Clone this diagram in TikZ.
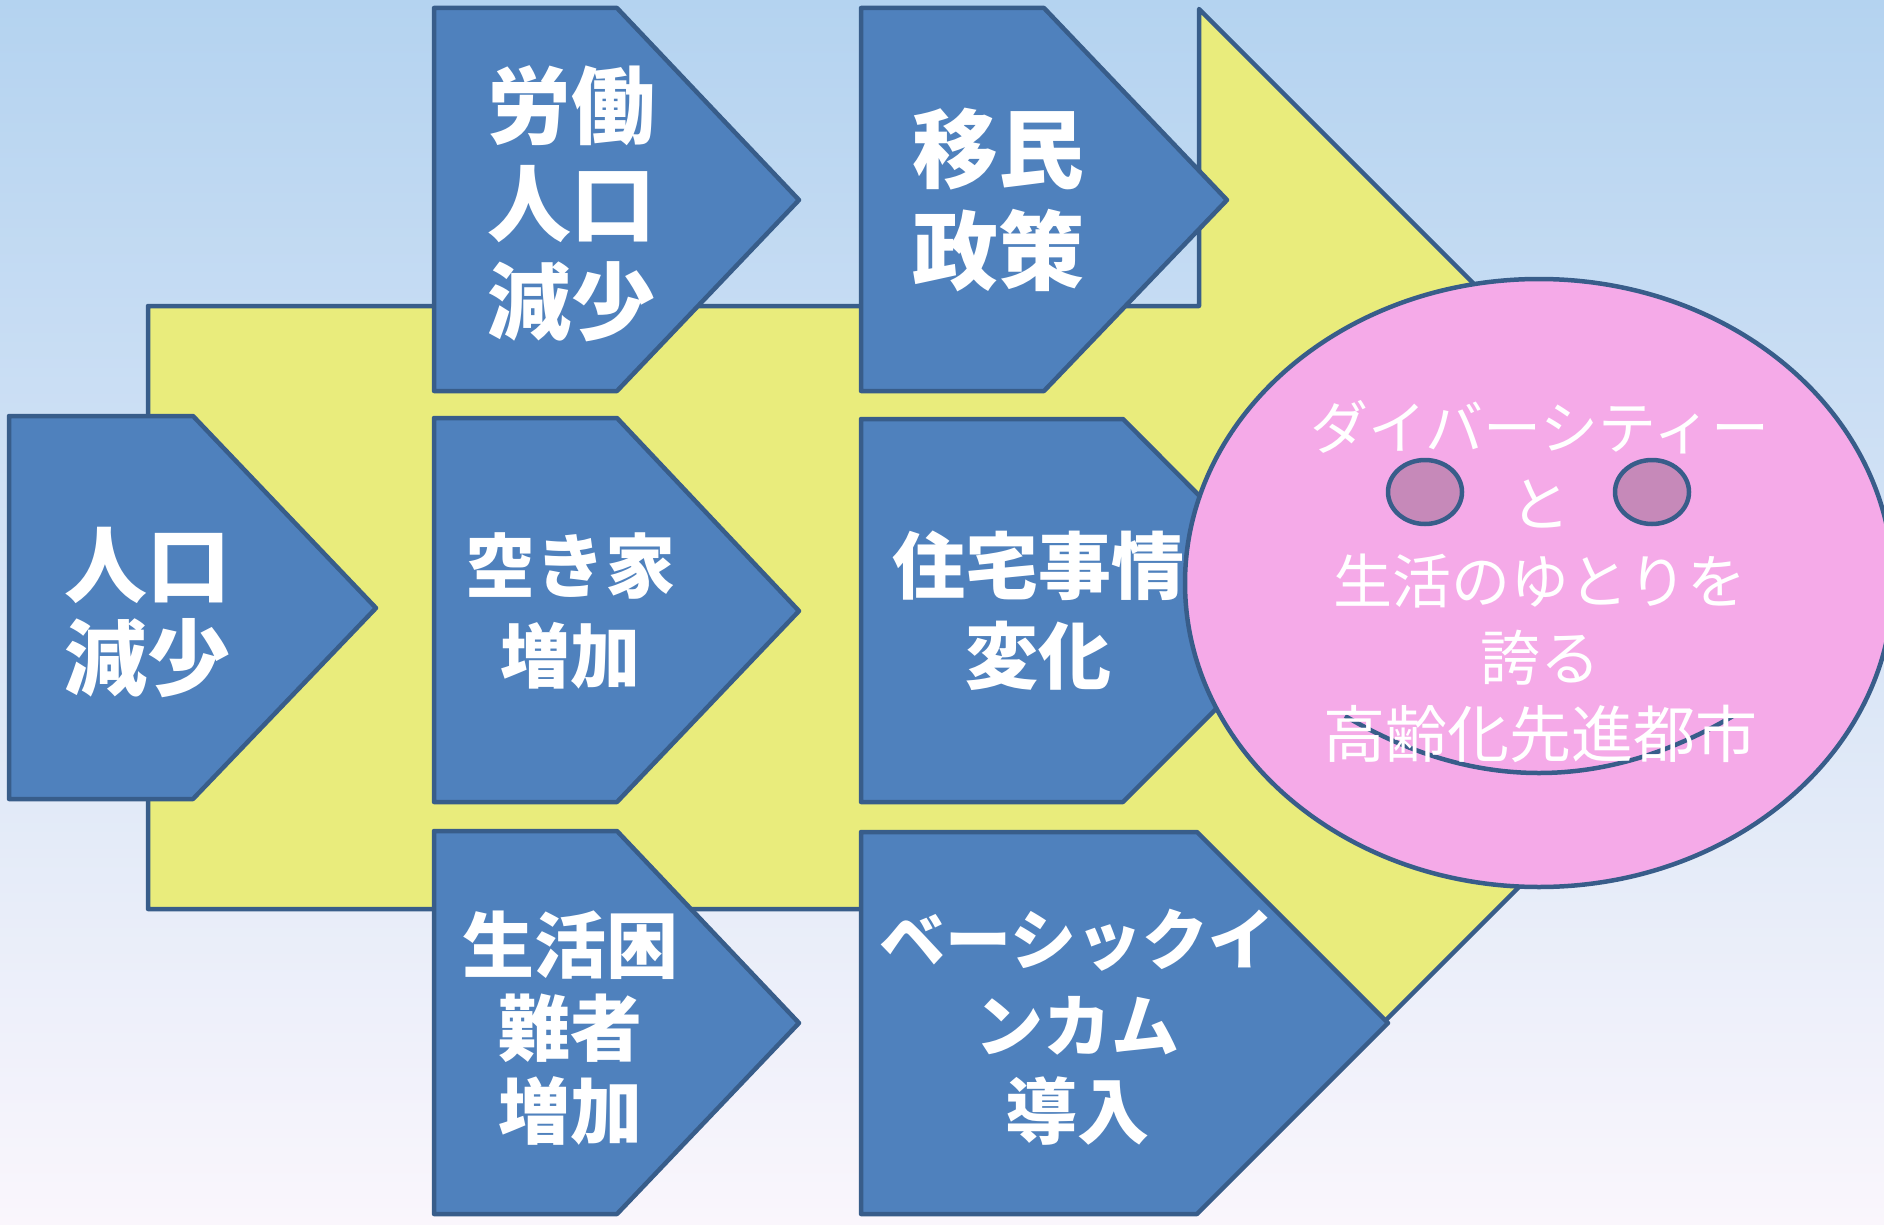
\documentclass[tikz,border=0pt]{standalone}
\usepackage{fontspec}
\newfontfamily\jp{Noto Sans CJK JP}
\definecolor{bfill}{RGB}{79,129,189}
\definecolor{bline}{RGB}{56,93,138}
\definecolor{yfill}{RGB}{233,236,124}
\definecolor{pfill}{RGB}{245,170,232}
\definecolor{efill}{RGB}{198,137,185}
\definecolor{bgtop}{RGB}{180,211,240}
\definecolor{bgmid}{RGB}{214,222,240}
\definecolor{bgbot}{RGB}{250,246,252}
\begin{document}
\begin{tikzpicture}[x=1pt,y=-1pt,
  outl/.style={draw=bline,line width=4.5pt,line join=round},
  bluebox/.style={outl,fill=bfill},
  boxtext/.style={text=white,align=center,inner sep=0pt},
  ovaltext/.style={text=white,align=center,inner sep=0pt,font=\jp\fontsize{60}{77}\selectfont}]
\useasboundingbox (0,0) rectangle (1884,1225);
\shade[top color=bgtop,middle color=bgmid,bottom color=bgbot] (0,0) rectangle (1884,1225);
% big yellow arrow
\path[outl,fill=yfill] (148,306) -- (1199,306) -- (1199,9) -- (1798,608) -- (1199,1207) -- (1199,909) -- (148,909) -- cycle;
% blue home plates
\path[bluebox] (9,416) -- (193,416) -- (376,608) -- (193,799) -- (9,799) -- cycle;
\path[bluebox] (434,8) -- (617,8) -- (799,200) -- (617,391) -- (434,391) -- cycle;
\path[bluebox] (861,8) -- (1044,8) -- (1227,200) -- (1044,391) -- (861,391) -- cycle;
\path[bluebox] (434,418) -- (617,418) -- (799,611) -- (617,802) -- (434,802) -- cycle;
\path[bluebox] (861,419) -- (1123,419) -- (1314,611) -- (1123,802) -- (861,802) -- cycle;
\path[bluebox] (434,831) -- (617,831) -- (799,1023) -- (617,1214) -- (434,1214) -- cycle;
\path[bluebox] (861,832) -- (1197,832) -- (1388,1023) -- (1197,1214) -- (861,1214) -- cycle;
% box texts
\node[boxtext,font=\jp\bfseries\fontsize{83}{93}\selectfont] (t1) at (147,612) {人口\\減少};
\node[boxtext,font=\jp\bfseries\fontsize{84}{98}\selectfont] (t2) at (571,204) {労働\\人口\\減少};
\node[boxtext,font=\jp\bfseries\fontsize{86}{102}\selectfont] (t3) at (998,200) {移民\\政策};
\node[boxtext,font=\jp\bfseries\fontsize{70}{90}\selectfont] (t4) at (570,611) {空き家\\増加};
\node[boxtext,font=\jp\bfseries\fontsize{73}{90}\selectfont] (t5) at (1038,611) {住宅事情\\変化};
\node[boxtext,font=\jp\bfseries\fontsize{72}{83}\selectfont] (t6) at (570,1028) {生活困\\難者\\増加};
\node[boxtext,font=\jp\bfseries\fontsize{68}{87}\selectfont] (t7) at (1077,1027) {{\fontsize{66}{87}\selectfont ベーシックイ}\\ンカム\\{\fontsize{72}{87}\selectfont 導入}};
% smiling face
\path[outl,fill=pfill] (1539,583) ellipse [x radius=354, y radius=304];
\path[outl,fill=efill] (1425,492) ellipse [x radius=37, y radius=32];
\path[outl,fill=efill] (1652,492) ellipse [x radius=37, y radius=32];
\draw[draw=bline,line width=4.5pt] (1345,716) .. controls (1474,792) and (1604,792) .. (1733,716);
\node[ovaltext] (t8) at (1540,582) {{\fontsize{58}{77}\selectfont ダイバーシティー}\\と\\{\fontsize{59}{77}\selectfont 生活のゆとりを}\\誇る\\{\fontsize{62}{77}\selectfont 高齢化先進都市}};
\end{tikzpicture}
\end{document}
